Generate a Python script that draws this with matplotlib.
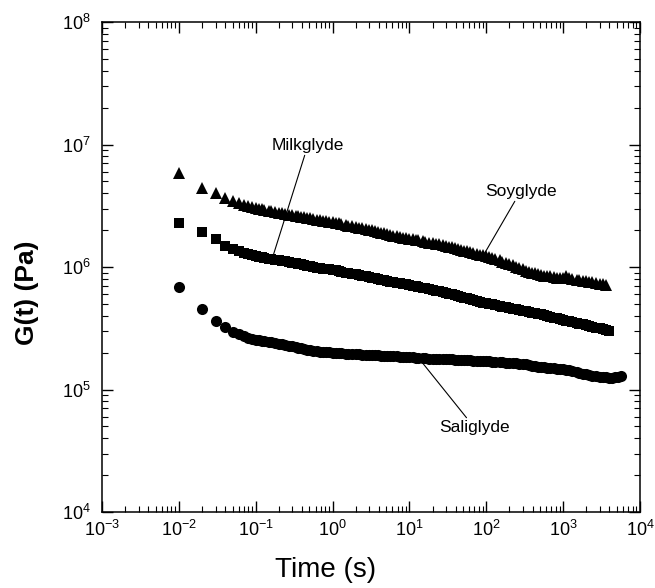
import numpy as np
import matplotlib.pyplot as plt

# relaxation modulus G(t) vs time for the three glyde resins
t_base = [0.01, 0.02, 0.03, 0.04, 0.05, 0.06, 0.07, 0.08, 0.09,
          0.10, 0.11, 0.12, 0.13, 0.15, 0.16, 0.18, 0.20, 0.22, 0.24, 0.27, 0.30,
          0.33, 0.36, 0.39, 0.43, 0.47, 0.51, 0.56, 0.62, 0.68, 0.75, 0.82, 0.91,
          1.0, 1.1, 1.2, 1.3, 1.5, 1.6, 1.8, 2.0, 2.2, 2.4, 2.7, 3.0,
          3.3, 3.6, 3.9, 4.3, 4.7, 5.1, 5.6, 6.2, 6.8, 7.5, 8.2, 9.1,
          10, 11, 12, 13, 15, 16, 18, 20, 22, 24, 27, 30,
          33, 36, 39, 43, 47, 51, 56, 62, 68, 75, 82, 91,
          100, 110, 120, 130, 150, 160, 180, 200, 220, 240, 270, 300,
          330, 360, 390, 430, 470, 510, 560, 620, 680, 750, 820, 910,
          1000, 1100, 1200, 1300, 1500, 1600, 1800, 2000, 2200, 2400, 2700, 3000,
          3300, 3600]

t_soy = t_base
g_soy = [5.85e6, 4.42e6, 4.02e6, 3.66e6, 3.46e6, 3.33e6, 3.21e6, 3.15e6, 3.09e6,
         3.03e6, 2.99e6, 2.95e6, 2.91e6, 2.86e6, 2.84e6, 2.81e6, 2.77e6, 2.74e6, 2.71e6, 2.68e6, 2.66e6,
         2.63e6, 2.60e6, 2.57e6, 2.54e6, 2.51e6, 2.49e6, 2.47e6, 2.44e6, 2.41e6, 2.39e6, 2.37e6, 2.35e6,
         2.33e6, 2.30e6, 2.27e6, 2.25e6, 2.21e6, 2.18e6, 2.15e6, 2.12e6, 2.09e6, 2.07e6, 2.04e6, 2.01e6,
         1.99e6, 1.96e6, 1.94e6, 1.91e6, 1.88e6, 1.86e6, 1.83e6, 1.80e6, 1.78e6, 1.76e6, 1.74e6, 1.71e6,
         1.69e6, 1.68e6, 1.67e6, 1.65e6, 1.62e6, 1.60e6, 1.58e6, 1.56e6, 1.55e6, 1.53e6, 1.50e6, 1.49e6,
         1.47e6, 1.45e6, 1.43e6, 1.40e6, 1.38e6, 1.36e6, 1.34e6, 1.32e6, 1.30e6, 1.28e6, 1.26e6, 1.25e6,
         1.23e6, 1.20e6, 1.18e6, 1.16e6, 1.13e6, 1.10e6, 1.08e6, 1.05e6, 1.03e6, 1.00e6, 9.8e5, 9.55e5,
         9.3e5, 9.15e5, 9.0e5, 8.85e5, 8.7e5, 8.6e5, 8.5e5, 8.45e5, 8.4e5, 8.3e5, 8.2e5, 8.15e5,
         8.1e5, 8.5e5, 8.2e5, 8.0e5, 7.85e5, 7.8e5, 7.7e5, 7.65e5, 7.6e5, 7.5e5, 7.4e5, 7.3e5,
         7.2e5, 7.1e5]

t_milk = t_base + [3900]
g_milk = [2.30e6, 1.94e6, 1.69e6, 1.48e6, 1.40e6, 1.35e6, 1.30e6, 1.27e6, 1.25e6,
          1.23e6, 1.21e6, 1.20e6, 1.19e6, 1.17e6, 1.16e6, 1.15e6, 1.13e6, 1.12e6, 1.11e6, 1.10e6, 1.08e6,
          1.07e6, 1.06e6, 1.05e6, 1.035e6, 1.02e6, 1.01e6, 1.00e6, 9.9e5, 9.8e5, 9.7e5, 9.6e5, 9.55e5,
          9.5e5, 9.4e5, 9.3e5, 9.15e5, 9.0e5, 8.9e5, 8.8e5, 8.7e5, 8.6e5, 8.5e5, 8.4e5, 8.3e5,
          8.2e5, 8.1e5, 8.0e5, 7.9e5, 7.8e5, 7.7e5, 7.6e5, 7.5e5, 7.4e5, 7.35e5, 7.3e5, 7.2e5,
          7.1e5, 7.05e5, 7.0e5, 6.9e5, 6.8e5, 6.7e5, 6.6e5, 6.5e5, 6.4e5, 6.35e5, 6.25e5, 6.15e5,
          6.05e5, 6.0e5, 5.9e5, 5.8e5, 5.7e5, 5.6e5, 5.55e5, 5.45e5, 5.35e5, 5.25e5, 5.2e5, 5.1e5,
          5.05e5, 5.0e5, 4.95e5, 4.9e5, 4.8e5, 4.75e5, 4.7e5, 4.6e5, 4.55e5, 4.5e5, 4.45e5, 4.4e5,
          4.35e5, 4.3e5, 4.25e5, 4.2e5, 4.15e5, 4.1e5, 4.05e5, 3.95e5, 3.9e5, 3.85e5, 3.8e5, 3.75e5,
          3.7e5, 3.65e5, 3.6e5, 3.55e5, 3.5e5, 3.45e5, 3.4e5, 3.35e5, 3.3e5, 3.25e5, 3.2e5, 3.15e5,
          3.1e5, 3.05e5, 3.0e5]

t_sali = t_base + [3900, 4300, 4700, 5100, 5600]
g_sali = [6.87e5, 4.54e5, 3.65e5, 3.26e5, 2.97e5, 2.82e5, 2.72e5, 2.65e5, 2.59e5,
          2.54e5, 2.52e5, 2.50e5, 2.48e5, 2.45e5, 2.43e5, 2.40e5, 2.37e5, 2.34e5, 2.31e5, 2.28e5, 2.25e5,
          2.22e5, 2.20e5, 2.17e5, 2.15e5, 2.12e5, 2.10e5, 2.08e5, 2.06e5, 2.04e5, 2.03e5, 2.02e5, 2.01e5,
          2.00e5, 1.99e5, 1.98e5, 1.97e5, 1.96e5, 1.96e5, 1.95e5, 1.94e5, 1.94e5, 1.93e5, 1.92e5, 1.92e5,
          1.91e5, 1.90e5, 1.90e5, 1.89e5, 1.88e5, 1.88e5, 1.87e5, 1.86e5, 1.86e5, 1.85e5, 1.85e5, 1.84e5,
          1.83e5, 1.83e5, 1.82e5, 1.82e5, 1.81e5, 1.80e5, 1.79e5, 1.79e5, 1.78e5, 1.78e5, 1.77e5, 1.77e5,
          1.77e5, 1.76e5, 1.75e5, 1.75e5, 1.74e5, 1.74e5, 1.73e5, 1.73e5, 1.72e5, 1.72e5, 1.72e5, 1.71e5,
          1.71e5, 1.70e5, 1.69e5, 1.68e5, 1.67e5, 1.67e5, 1.66e5, 1.65e5, 1.64e5, 1.64e5, 1.63e5, 1.62e5,
          1.60e5, 1.58e5, 1.57e5, 1.56e5, 1.54e5, 1.53e5, 1.52e5, 1.51e5, 1.50e5, 1.49e5, 1.48e5, 1.47e5,
          1.46e5, 1.45e5, 1.43e5, 1.41e5, 1.39e5, 1.37e5, 1.35e5, 1.33e5, 1.31e5, 1.30e5, 1.28e5, 1.27e5,
          1.26e5, 1.255e5, 1.25e5, 1.25e5, 1.26e5, 1.27e5, 1.29e5]

plt.rcParams['font.family'] = 'Liberation Sans'
plt.rcParams['mathtext.default'] = 'regular'

fig = plt.figure(figsize=(6.55, 5.88), dpi=100)
ax = fig.add_axes([102/655, 1 - 512/588, 538/655, 490/588])

ax.plot(t_soy, g_soy, linestyle='', marker='^', ms=8, color='black', mew=0)
ax.plot(t_milk, g_milk, linestyle='', marker='s', ms=7.5, color='black', mew=0)
ax.plot(t_sali, g_sali, linestyle='', marker='o', ms=8, color='black', mew=0)

ax.set_xscale('log')
ax.set_yscale('log')
ax.set_xlim(1e-3, 1e4)
ax.set_ylim(1e4, 1e8)

ax.tick_params(which='both', direction='in', top=True, right=True, labelsize=13)
ax.tick_params(which='major', length=8, width=1)
ax.tick_params(which='minor', length=4, width=0.8)
ax.tick_params(axis='x', pad=6)
ax.tick_params(axis='y', pad=8)
for s in ax.spines.values():
    s.set_linewidth(1.1)

# labels on the curves
arrow = dict(arrowstyle='-', color='black', lw=0.8, shrinkA=0, shrinkB=0)
ax.annotate('Milkglyde', xy=(0.168, 1.23e6), xytext=(0.478, 9.9e6),
            ha='center', va='center', fontsize=12.5, arrowprops=arrow)
ax.annotate('Soyglyde', xy=(95.5, 1.30e6), xytext=(281, 4.17e6),
            ha='center', va='center', fontsize=12.5, arrowprops=arrow)
ax.annotate('Saliglyde', xy=(14.9, 1.64e5), xytext=(70.8, 4.85e4),
            ha='center', va='center', fontsize=12.5, arrowprops=arrow)

fig.text(326/655, 1 - 570/588, 'Time (s)', ha='center', va='center', fontsize=20)
fig.text(27/655, 1 - 293/588, 'G(t) (Pa)', ha='center', va='center', fontsize=19,
         fontweight='bold', rotation=90)

fig.savefig('out.png', dpi=100)
